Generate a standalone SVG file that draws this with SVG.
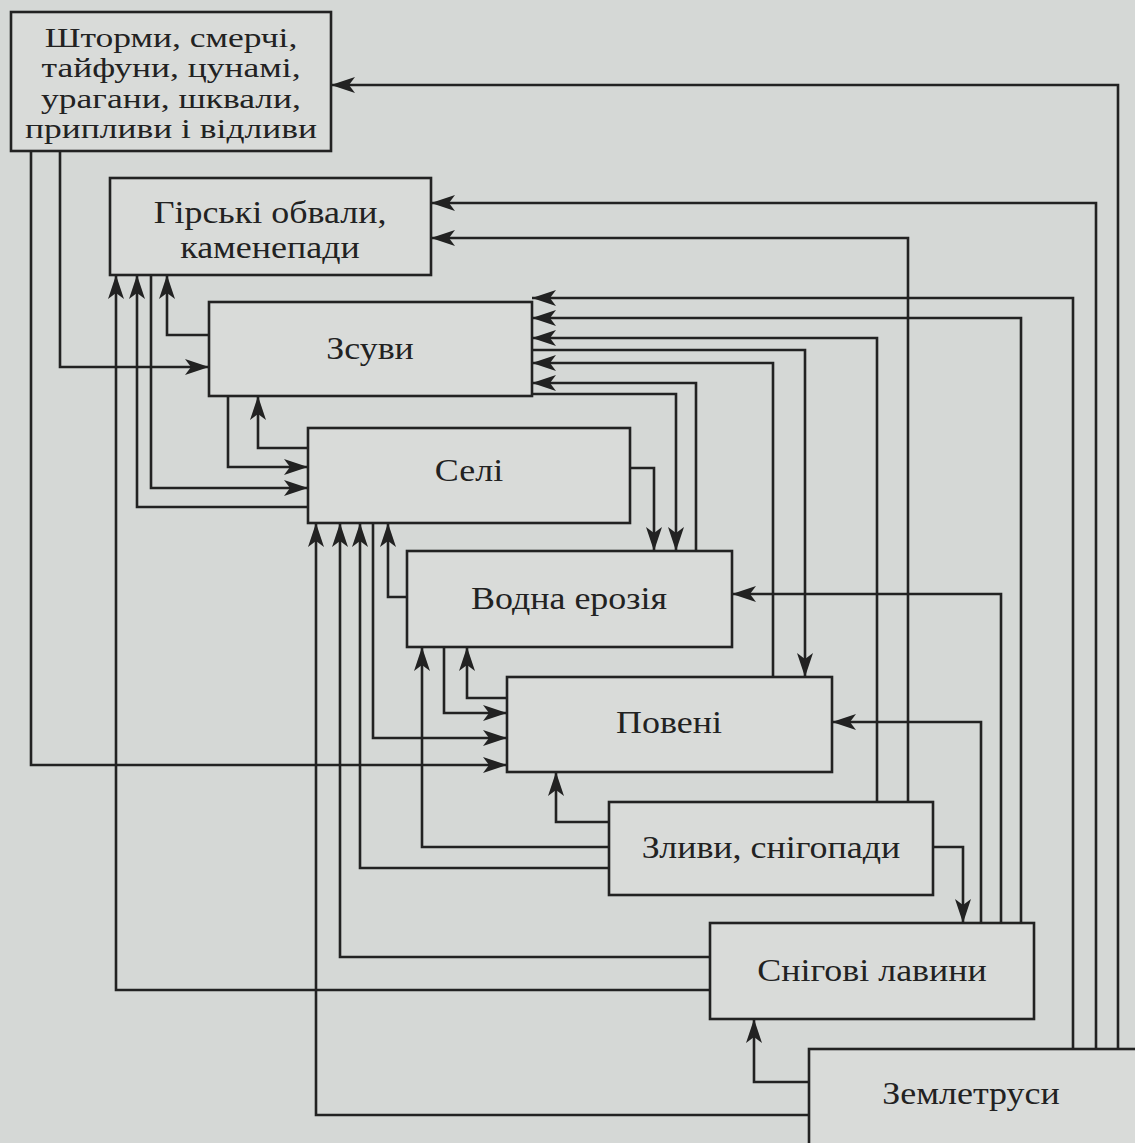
<svg xmlns="http://www.w3.org/2000/svg" width="1135" height="1143" viewBox="0 0 1135 1143">
<style>
.bg{fill:#d5d8d6}
.box rect{fill:#d9dbd9;stroke:#222;stroke-width:2.6}
.box text{font-family:"Liberation Serif","Times New Roman",serif;font-size:31px;fill:#222;text-anchor:middle}
.box text.sm{font-size:26.5px}
#connectors path{fill:none;stroke:#222;stroke-width:2.6;marker-end:url(#ah)}
</style>
<defs>
<marker id="ah" markerWidth="24" markerHeight="16" refX="24" refY="8" orient="auto" markerUnits="userSpaceOnUse">
<path d="M0,0 L24,8 L0,16 L6,8 z" fill="#222"/>
</marker>
</defs>
<rect class="bg" x="0" y="0" width="1135" height="1143"/>
<g id="connectors">
<path d="M60,151 V367 H209"/>
<path d="M31,151 V765 H507"/>
<path d="M151,275 V488 H308"/>
<path d="M308,507 H137 V275"/>
<path d="M710,990 H116 V275"/>
<path d="M209,335 H167 V275"/>
<path d="M1096,1049 V203 H431"/>
<path d="M908,802 V238 H431"/>
<path d="M1118,1049 V85 H331"/>
<path d="M228,396 V467 H308"/>
<path d="M308,448 H258 V396"/>
<path d="M532,394 H676 V551"/>
<path d="M696,551 V383 H532"/>
<path d="M773,677 V363 H532"/>
<path d="M532,350 H805 V677"/>
<path d="M877,802 V338 H532"/>
<path d="M1021,923 V318 H532"/>
<path d="M1073,1049 V298 H532"/>
<path d="M630,468 H654 V551"/>
<path d="M407,597 H388 V523"/>
<path d="M609,868 H360 V523"/>
<path d="M710,957 H340 V523"/>
<path d="M809,1115 H316 V523"/>
<path d="M373,523 V738 H507"/>
<path d="M444,647 V713 H507"/>
<path d="M507,698 H467 V647"/>
<path d="M609,847 H422 V647"/>
<path d="M1001,923 V594 H732"/>
<path d="M609,822 H556 V772"/>
<path d="M981,923 V722 H832"/>
<path d="M933,847 H963 V923"/>
<path d="M809,1082 H754 V1019"/>
</g>
<g id="n-shtormy" class="box"><rect x="11" y="12" width="320" height="139"/>
<text class="sm" transform="translate(171,47) scale(1.34,1)"><tspan x="0" y="0">Шторми, смерчі,</tspan><tspan x="0" y="30.5">тайфуни, цунамі,</tspan><tspan x="0" y="61">урагани, шквали,</tspan><tspan x="0" y="91.5">припливи і відливи</tspan></text></g>
<g id="n-girski" class="box"><rect x="110" y="178" width="321" height="97"/>
<text transform="translate(270,223) scale(1.16,1)"><tspan x="0" y="0">Гірські обвали,</tspan><tspan x="0" y="35">каменепади</tspan></text></g>
<g id="n-zsuvy" class="box"><rect x="209" y="302" width="323" height="94"/>
<text transform="translate(370,359) scale(1.16,1)">Зсуви</text></g>
<g id="n-seli" class="box"><rect x="308" y="428" width="322" height="95"/>
<text transform="translate(469,481) scale(1.16,1)">Селі</text></g>
<g id="n-vodna" class="box"><rect x="407" y="551" width="325" height="96"/>
<text transform="translate(569,609) scale(1.16,1)">Водна ерозія</text></g>
<g id="n-poveni" class="box"><rect x="507" y="677" width="325" height="95"/>
<text transform="translate(669,733) scale(1.16,1)">Повені</text></g>
<g id="n-zlyvy" class="box"><rect x="609" y="802" width="324" height="93"/>
<text transform="translate(771,858) scale(1.16,1)">Зливи, снігопади</text></g>
<g id="n-snigovi" class="box"><rect x="710" y="923" width="324" height="96"/>
<text transform="translate(872,981) scale(1.16,1)">Снігові лавини</text></g>
<g id="n-zemletrusy" class="box"><rect x="809" y="1049" width="340" height="110"/>
<text transform="translate(971,1104) scale(1.16,1)">Землетруси</text></g>
</svg>
